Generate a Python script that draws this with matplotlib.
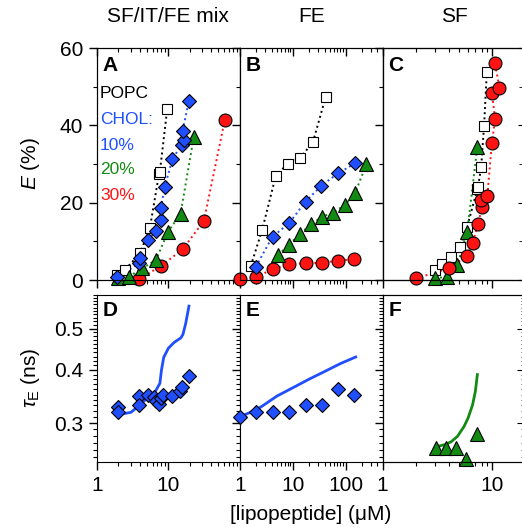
import numpy as np
import matplotlib
matplotlib.use("Agg")
import matplotlib.pyplot as plt
from matplotlib.ticker import FixedLocator, LogLocator, NullFormatter, FixedFormatter

plt.rcParams['font.family'] = ['Liberation Sans', 'DejaVu Sans']
plt.rcParams['mathtext.fontset'] = 'custom'
plt.rcParams['mathtext.rm'] = 'Liberation Sans'
plt.rcParams['mathtext.it'] = 'Liberation Sans:italic'

# ---------------- data ----------------
col_titles = ["SF/IT/FE mix", "FE", "SF"]
panel_letters = ["A", "B", "C", "D", "E", "F"]
legend_labels = ["POPC", "CHOL:", "10%", "20%", "30%"]

# Panel A (E %)
A_popc_c = [1.88, 2.46, 4.0, 5.5, 7.4, 7.6, 9.6]
A_popc_E = [1.3, 2.6, 6.9, 13.4, 27.5, 28.0, 44.1]
A_10_c = [1.88, 3.9, 4.0, 5.2, 6.7, 7.8, 7.8, 8.9, 11.4, 15.3, 16.5, 15.8, 19.4]
A_10_E = [0.7, 4.3, 5.6, 10.3, 12.8, 15.5, 18.5, 24.1, 31.3, 35.0, 36.2, 38.6, 46.4]
A_20_c = [2.0, 2.8, 4.3, 6.7, 9.9, 14.8, 22.7]
A_20_E = [0.4, 0.9, 3.0, 5.2, 12.5, 17.1, 37.1]
A_30_c = [3.9, 7.8, 15.8, 31.4, 61.7]
A_30_E = [0.2, 3.6, 7.9, 15.3, 41.4]

# Panel B
B_popc_c = [1.61, 2.64, 4.8, 8.0, 14.0, 24.3, 41.7]
B_popc_E = [3.6, 12.9, 27.0, 30.0, 31.6, 35.8, 47.2]
B_10_c = [2.0, 4.15, 8.6, 17.5, 35, 72, 153]
B_10_E = [3.4, 11.2, 14.7, 20.3, 24.4, 27.6, 30.2]
B_20_c = [5.3, 8.5, 13.6, 22.6, 36.4, 58, 97, 150, 248]
B_20_E = [6.5, 9.1, 11.9, 14.5, 16.4, 17.4, 19.4, 22.4, 30.0]
B_30_c = [1.0, 2.0, 4.15, 8.6, 17.7, 36, 72, 145]
B_30_E = [0.2, 0.7, 2.8, 4.1, 4.3, 4.5, 5.0, 5.4]

# Panel C
C_popc_c = [3.0, 3.5, 4.2, 5.1, 5.9, 7.3, 7.4, 7.9, 8.4, 8.9]
C_popc_E = [2.6, 4.1, 6.0, 8.5, 13.8, 23.5, 24.1, 29.1, 39.8, 53.7]
C_20_c = [3.0, 3.9, 4.8, 5.9, 7.3]
C_20_E = [0.4, 0.9, 3.9, 12.5, 34.5]
C_30_c = [2.0, 4.0, 5.9, 6.6, 7.4, 8.1, 7.9, 9.0, 9.9, 10.6, 9.9, 11.6, 10.6]
C_30_E = [0.4, 3.0, 6.2, 9.5, 14.5, 19.0, 20.7, 21.7, 35.5, 41.6, 48.4, 49.6, 56.0]

# Panel D (tau_E ns)
D_c = [2.0, 2.0, 3.9, 3.9, 5.1, 6.2, 6.8, 7.4, 8.0, 8.4, 11.4, 14.5, 15.5, 19.4]
D_tau = [0.328, 0.318, 0.348, 0.330, 0.350, 0.345, 0.338, 0.332, 0.343, 0.350, 0.348, 0.357, 0.365, 0.388]
D_fit_c = [2.0, 3.0, 3.9, 5.2, 6.5, 7.6, 8.0, 8.6, 10.0, 12.0, 15.0, 16.0, 17.5, 19.4]
D_fit_tau = [0.314, 0.318, 0.330, 0.345, 0.355, 0.372, 0.40, 0.428, 0.450, 0.464, 0.476, 0.485, 0.515, 0.565]

# Panel E
E_c = [1.0, 2.06, 4.15, 8.6, 17.7, 36, 72, 145]
E_tau = [0.310, 0.319, 0.319, 0.319, 0.331, 0.330, 0.361, 0.350]
E_fit_c = [1.1, 1.6, 2.57, 5.0, 11.8, 20, 37.6, 80, 155]
E_fit_tau = [0.312, 0.318, 0.328, 0.347, 0.367, 0.380, 0.395, 0.414, 0.429]

# Panel F
F_c = [3.04, 3.75, 4.7, 5.8, 7.3]
F_tau = [0.262, 0.262, 0.262, 0.247, 0.283]
F_fit_c = [3.1, 3.7, 4.2, 4.8, 5.5, 6.0, 6.6, 7.0, 7.3]
F_fit_tau = [0.264, 0.267, 0.271, 0.279, 0.294, 0.308, 0.331, 0.356, 0.390]

x_limits = [(1, 100), (1, 500), (1, 20)]
x_major = [[1, 10], [1, 10, 100], [1, 10]]
E_ticks = [0, 20, 40, 60]
tau_ticks = [0.3, 0.4, 0.5]
tau_lim = (0.243, 0.60)

# ---------------- style ----------------
BLACK = "#000000"
BLUE = "#1f4fff"
GREEN = "#138a13"
RED = "#ff1414"
FS = 15
MS_D, MS_O, MS_T, MS_S = 7.6, 9.3, 10.2, 7.2

W, H = 522, 529
fig = plt.figure(figsize=(W / 100, H / 100), dpi=100)

def fax(x0, y0, x1, y1):
    return fig.add_axes([x0 / W, 1 - y1 / H, (x1 - x0) / W, (y1 - y0) / H])

cols = [(97, 239.8), (239.8, 382.6), (382.6, 525.4)]
upper = (48, 280)
lower = (295, 462)

def setup_x(ax, i, labels):
    ax.set_xscale('log')
    ax.set_xlim(*x_limits[i])
    ax.xaxis.set_major_locator(FixedLocator(x_major[i]))
    ax.xaxis.set_major_formatter(FixedFormatter([str(v) for v in x_major[i]]))
    ax.xaxis.set_minor_locator(LogLocator(base=10, subs=np.arange(2, 10)))
    ax.xaxis.set_minor_formatter(NullFormatter())
    ax.tick_params(axis='x', which='major', direction='out', length=6, width=1,
                   labelsize=FS, labelbottom=labels, pad=4)
    ax.tick_params(axis='x', which='minor', direction='out', length=3, width=0.8)

mk = dict(markeredgecolor='black', markeredgewidth=0.8, clip_on=False, zorder=5, linestyle='none')
ln = dict(linestyle=':', linewidth=1.4, zorder=3)

def plot_series(ax, c, e, marker, color, ms, face=None):
    order = np.argsort(e)
    cc = np.asarray(c)[order]
    ee = np.asarray(e)[order]
    ax.plot(cc, ee, color=color, **ln)
    ax.plot(cc, ee, marker=marker, markersize=ms,
            markerfacecolor=(face if face else color), **mk)

tau_minor = np.round(np.arange(0.25, 0.605, 0.01), 3)

upper_axes = []
lower_axes = []
for i, (x0, x1) in enumerate(cols):
    ax = fax(x0, upper[0], x1, upper[1])
    setup_x(ax, i, False)
    ax.set_ylim(0, 60)
    ax.yaxis.set_major_locator(FixedLocator(E_ticks))
    ax.yaxis.set_minor_locator(FixedLocator([10, 30, 50]))
    ax.tick_params(axis='y', which='major', direction='out', length=6, width=1,
                   labelsize=FS, labelleft=(i == 0), pad=4)
    ax.tick_params(axis='y', which='minor', direction='out', length=3, width=0.8)
    t = ax.twiny()
    t.set_xscale('log')
    t.set_xlim(*x_limits[i])
    t.xaxis.set_major_locator(FixedLocator(x_major[i]))
    t.xaxis.set_minor_locator(LogLocator(base=10, subs=np.arange(2, 10)))
    t.tick_params(axis='x', which='major', direction='in', length=6, width=1, labeltop=False)
    t.tick_params(axis='x', which='minor', direction='in', length=3, width=0.8)
    t.xaxis.set_minor_formatter(NullFormatter())
    if i == 2:
        r = ax.twinx()
        r.set_ylim(0, 60)
        r.yaxis.set_major_locator(FixedLocator(E_ticks))
        r.yaxis.set_minor_locator(FixedLocator([10, 30, 50]))
        r.tick_params(axis='y', which='major', direction='in', length=5, labelright=False)
        r.tick_params(axis='y', which='minor', direction='in', length=4)
    upper_axes.append(ax)

    axl = fax(x0, lower[0], x1, lower[1])
    setup_x(axl, i, True)
    axl.set_yscale('log')
    axl.set_ylim(*tau_lim)
    axl.yaxis.set_major_locator(FixedLocator(tau_ticks))
    axl.yaxis.set_major_formatter(FixedFormatter([str(v) for v in tau_ticks]))
    axl.yaxis.set_minor_locator(FixedLocator(tau_minor))
    axl.yaxis.set_minor_formatter(NullFormatter())
    axl.tick_params(axis='y', which='major', direction='out', length=6, width=1,
                    labelsize=FS, labelleft=(i == 0), pad=4)
    axl.tick_params(axis='y', which='minor', direction='out', length=3, width=0.8)
    if i == 2:
        r = axl.twinx()
        r.set_yscale('log')
        r.set_ylim(*tau_lim)
        r.yaxis.set_major_locator(FixedLocator(tau_ticks))
        r.yaxis.set_minor_locator(FixedLocator(tau_minor))
        r.yaxis.set_minor_formatter(NullFormatter())
        r.tick_params(axis='y', which='major', direction='in', length=6, labelright=False)
        r.tick_params(axis='y', which='minor', direction='in', length=3)
    lower_axes.append(axl)

# upper panels
axA, axB, axC = upper_axes
plot_series(axA, A_popc_c, A_popc_E, 's', BLACK, MS_S, face='white')
plot_series(axA, A_30_c, A_30_E, 'o', RED, MS_O)
plot_series(axA, A_20_c, A_20_E, '^', GREEN, MS_T)
plot_series(axA, A_10_c, A_10_E, 'D', BLUE, MS_D)

plot_series(axB, B_popc_c, B_popc_E, 's', BLACK, MS_S, face='white')
plot_series(axB, B_30_c, B_30_E, 'o', RED, MS_O)
plot_series(axB, B_20_c, B_20_E, '^', GREEN, MS_T)
plot_series(axB, B_10_c, B_10_E, 'D', BLUE, MS_D)

plot_series(axC, C_popc_c, C_popc_E, 's', BLACK, MS_S, face='white')
plot_series(axC, C_20_c, C_20_E, '^', GREEN, MS_T)
plot_series(axC, C_30_c, C_30_E, 'o', RED, MS_O)

# lower panels
axD, axE, axF = lower_axes
axD.plot(D_fit_c, D_fit_tau, color=BLUE, linewidth=2, zorder=3)
axD.plot(D_c, D_tau, marker='D', markersize=MS_D, markerfacecolor=BLUE, **mk)
axE.plot(E_fit_c, E_fit_tau, color=BLUE, linewidth=2, zorder=3)
axE.plot(E_c, E_tau, marker='D', markersize=MS_D, markerfacecolor=BLUE, **mk)
axF.plot(F_fit_c, F_fit_tau, color=GREEN, linewidth=2, zorder=3)
axF.plot(F_c, F_tau, marker='^', markersize=MS_T, markerfacecolor=GREEN, **mk)

# panel letters
for ax, letter in zip(upper_axes + lower_axes, panel_letters):
    ax.text(0.04, 0.965, letter, transform=ax.transAxes, ha='left', va='top',
            fontsize=15, fontweight='bold', zorder=10)

# in-panel legend text (A)
leg_colors = [BLACK, BLUE, BLUE, GREEN, RED]
leg_y = [93, 119, 145, 170, 196]
for lab, c, y in zip(legend_labels, leg_colors, leg_y):
    fig.text(100 / W, 1 - y / H, lab, color=c, fontsize=12.5, ha='left', va='center')

# column titles
for (x0, x1), title in zip(cols, col_titles):
    fig.text(((x0 + x1) / 2) / W, 1 - 17 / H, title, fontsize=FS, ha='center', va='center')

# axis labels
fig.text(30 / W, 1 - 164 / H, r'$E$ (%)', fontsize=FS, rotation=90, ha='center', va='center')
fig.text(30 / W, 1 - 378 / H, r'$\tau_{\rm E}$ (ns)', fontsize=FS, rotation=90, ha='center', va='center')
fig.text(311 / W, 1 - 515 / H, '[lipopeptide] (μM)', fontsize=FS, ha='center', va='center')

fig.savefig('out.png', dpi=100)
